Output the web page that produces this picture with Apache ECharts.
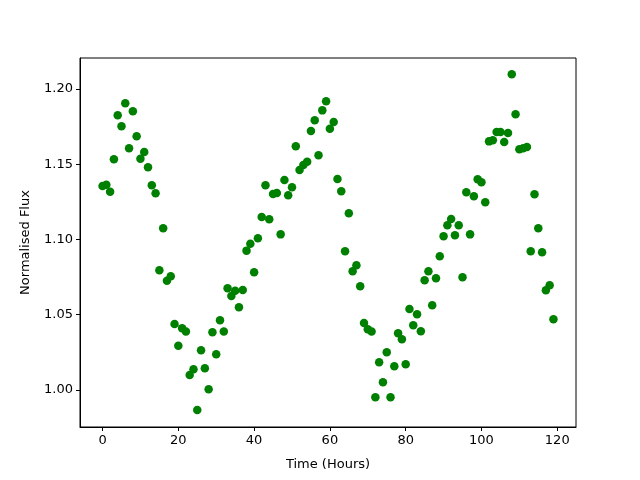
<!DOCTYPE html>
<html>
<head>
<meta charset="utf-8">
<script src="https://cdn.jsdelivr.net/npm/echarts@6/dist/echarts.min.js"></script>
<style>
  html, body { margin: 0; padding: 0; background: #fff; }
  #chart { width: 640px; height: 480px; }
</style>
</head>
<body>
<div id="chart"></div>
<script>
// hours 0..119
var hours = [];
for (var h = 0; h < 120; h++) { hours.push(h); }

var flux = [
  1.1355, 1.1364, 1.1318, 1.1533, 1.1825, 1.1752, 1.1905, 1.1606, 1.1852, 1.1686,
  1.1537, 1.1581, 1.1480, 1.1360, 1.1307, 1.0795, 1.1074, 1.0726, 1.0755, 1.0439,
  1.0294, 1.0410, 1.0388, 1.0100, 1.0138, 0.9867, 1.0264, 1.0144, 1.0005, 1.0383,
  1.0237, 1.0463, 1.0388, 1.0676, 1.0625, 1.0660, 1.0550, 1.0664, 1.0926, 1.0972,
  1.0782, 1.1008, 1.1150, 1.1360, 1.1134, 1.1302, 1.1309, 1.1034, 1.1395, 1.1294,
  1.1347, 1.1619, 1.1462, 1.1495, 1.1517, 1.1721, 1.1792, 1.1559, 1.1858, 1.1918,
  1.1736, 1.1781, 1.1402, 1.1320, 1.0922, 1.1174, 1.0789, 1.0829, 1.0689, 1.0445,
  1.0403, 1.0388, 0.9952, 1.0184, 1.0051, 1.0250, 0.9952, 1.0157, 1.0377, 1.0337,
  1.0171, 1.0538, 1.0430, 1.0503, 1.0390, 1.0729, 1.0789, 1.0563, 1.0742, 1.0888,
  1.1021, 1.1094, 1.1136, 1.1028, 1.1094, 1.0749, 1.1314, 1.1034, 1.1287, 1.1400,
  1.1380, 1.1247, 1.1652, 1.1659, 1.1714, 1.1714, 1.1648, 1.1708, 1.2098, 1.1832,
  1.1600, 1.1606, 1.1615, 1.0922, 1.1300, 1.1074, 1.0915, 1.0662, 1.0696, 1.0470
];

var xTicks = [0, 20, 40, 60, 80, 100, 120];
var yTicks = [1.00, 1.05, 1.10, 1.15, 1.20];

var points = hours.map(function (t, i) { return [t, flux[i]]; });

var font = 'DejaVu Sans';
var chart = echarts.init(document.getElementById('chart'));
chart.setOption({
  animation: false,
  backgroundColor: '#fff',
  grid: {
    left: 80, right: 64, top: 58, bottom: 53,
    show: true, borderColor: '#000', borderWidth: 1, backgroundColor: 'transparent'
  },
  xAxis: {
    type: 'value',
    min: -5.95, max: 124.95,
    name: 'Time (Hours)',
    nameLocation: 'middle',
    nameGap: 31,
    nameTextStyle: { color: '#000', fontSize: 13, fontFamily: font },
    axisLine: { show: true, onZero: false, lineStyle: { color: '#000', width: 1 } },
    axisTick: { show: true, length: 4, inside: false, customValues: xTicks, lineStyle: { color: '#000' } },
    axisLabel: { customValues: xTicks, color: '#000', fontSize: 13, fontFamily: font, margin: 7 },
    splitLine: { show: false }
  },
  yAxis: {
    type: 'value',
    min: 0.9754, max: 1.2206,
    name: 'Normalised Flux',
    nameLocation: 'middle',
    nameGap: 48,
    nameRotate: 90,
    nameTextStyle: { color: '#000', fontSize: 13, fontFamily: font },
    axisLine: { show: true, onZero: false, lineStyle: { color: '#000', width: 1 } },
    axisTick: { show: true, length: 4, inside: false, customValues: yTicks, lineStyle: { color: '#000' } },
    axisLabel: {
      customValues: yTicks, color: '#000', fontSize: 13, fontFamily: font, margin: 7,
      formatter: function (v) { return v.toFixed(2); }
    },
    splitLine: { show: false }
  },
  series: [{
    type: 'scatter',
    data: points,
    symbol: 'circle',
    symbolSize: 8.5,
    itemStyle: { color: '#008000', opacity: 1 }
  }]
});
</script>
</body>
</html>
